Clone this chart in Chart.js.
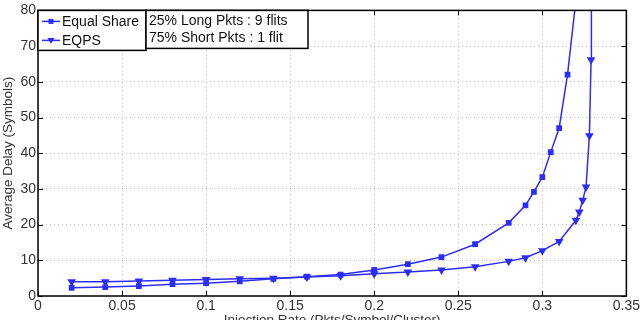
<!DOCTYPE html>
<html>
<head>
<meta charset="utf-8">
<script src="https://cdn.jsdelivr.net/npm/chart.js@4.4.1/dist/chart.umd.min.js"></script>
<style>
  html, body { margin: 0; padding: 0; background: #fff; }
  #wrap { width: 642px; height: 320px; }
</style>
</head>
<body>
<div id="wrap"><canvas id="c" width="642" height="320"></canvas></div>
<script>
// données
const esX = [0.02, 0.04, 0.06, 0.08, 0.1, 0.12, 0.14, 0.16, 0.18, 0.2, 0.22, 0.24, 0.26, 0.28, 0.29, 0.295, 0.3, 0.305, 0.31, 0.315, 0.32];
const esY = [2.3, 2.5, 2.8, 3.3, 3.6, 4.1, 4.8, 5.4, 6.0, 7.3, 8.9, 10.9, 14.5, 20.5, 25.4, 29.2, 33.3, 40.3, 47.0, 62.0, 83.0];
const eqX = [0.02, 0.04, 0.06, 0.08, 0.1, 0.12, 0.14, 0.16, 0.18, 0.2, 0.22, 0.24, 0.26, 0.28, 0.29, 0.3, 0.31, 0.32, 0.322, 0.324, 0.326, 0.328, 0.329, 0.3292];
const eqY = [4.0, 4.0, 4.2, 4.4, 4.6, 4.8, 5.0, 5.3, 5.7, 6.2, 6.7, 7.3, 8.2, 9.7, 10.7, 12.7, 15.3, 21.2, 23.5, 26.8, 30.5, 44.9, 66.2, 100];
const seriesNames = ["Equal Share", "EQPS"];
const noteLines = ["25% Long Pkts : 9 flits", "75% Short Pkts : 1 flit"];
const xTitle = "Injection Rate (Pkts/Symbol/Cluster)";
const yTitle = "Average Delay (Symbols)";

const BLUE = "rgb(45,45,250)";
const FONT = "Liberation Sans, Arial, sans-serif";

function pts(xs, ys) { return xs.map((x, i) => ({ x: x, y: ys[i] })); }

// ticks vers l'intérieur + cadre + légende + titres
const deco = {
  id: "deco",
  afterDraw(chart) {
    const ctx = chart.ctx, a = chart.chartArea;
    const xs = chart.scales.x, ys = chart.scales.y;
    ctx.save();
    ctx.strokeStyle = "#000";
    ctx.lineWidth = 1;
    ctx.beginPath();
    xs.ticks.forEach(t => {
      const px = Math.round(xs.getPixelForValue(t.value)) + 0.5;
      ctx.moveTo(px, a.bottom); ctx.lineTo(px, a.bottom - 5);
      ctx.moveTo(px, a.top); ctx.lineTo(px, a.top + 5);
    });
    ys.ticks.forEach(t => {
      const py = Math.round(ys.getPixelForValue(t.value)) + 0.5;
      ctx.moveTo(a.left, py); ctx.lineTo(a.left + 5, py);
      ctx.moveTo(a.right, py); ctx.lineTo(a.right - 5, py);
    });
    ctx.stroke();
    ctx.lineWidth = 1.5;
    ctx.strokeRect(a.left, a.top, a.right - a.left, a.bottom - a.top);

    // légende
    ctx.fillStyle = "#fff";
    ctx.fillRect(a.left, a.top, 108, 40);
    ctx.strokeRect(a.left, a.top, 108, 40);
    ctx.font = "14px " + FONT;
    ctx.textBaseline = "middle";
    seriesNames.forEach((n, i) => {
      const y = a.top + 11 + i * 19;
      ctx.strokeStyle = BLUE; ctx.fillStyle = BLUE; ctx.lineWidth = 1.5;
      ctx.beginPath(); ctx.moveTo(a.left + 4, y); ctx.lineTo(a.left + 22, y); ctx.stroke();
      ctx.beginPath();
      if (i === 0) { ctx.fillRect(a.left + 10.5, y - 2.5, 5, 5); }
      else { ctx.moveTo(a.left + 9.5, y - 2.5); ctx.lineTo(a.left + 16.5, y - 2.5); ctx.lineTo(a.left + 13, y + 3.5); ctx.closePath(); ctx.fill(); }
      ctx.fillStyle = "#111";
      ctx.fillText(n, a.left + 24, y + 0.5);
    });
    // encadré texte
    ctx.strokeStyle = "#000"; ctx.lineWidth = 1.5;
    ctx.fillStyle = "#fff";
    ctx.fillRect(a.left + 108, a.top, 162, 38);
    ctx.strokeRect(a.left + 108, a.top, 162, 38);
    ctx.fillStyle = "#111";
    noteLines.forEach((t, i) => ctx.fillText(t, a.left + 111, a.top + 10.5 + i * 17));

    // titres des axes
    ctx.font = "13.5px " + FONT;
    ctx.fillStyle = "#333";
    ctx.textAlign = "center";
    ctx.textBaseline = "alphabetic";
    ctx.fillText(xTitle, (a.left + a.right) / 2, 324);
    ctx.textBaseline = "middle";
    ctx.translate(8, (a.top + a.bottom) / 2);
    ctx.rotate(-Math.PI / 2);
    ctx.fillText(yTitle, 0, 0);
    ctx.restore();
  }
};

new Chart(document.getElementById("c"), {
  type: "scatter",
  data: {
    datasets: [
      {
        label: seriesNames[0], data: pts(esX, esY), showLine: true,
        borderColor: BLUE, backgroundColor: BLUE, borderWidth: 1.5,
        pointStyle: "rect", pointRadius: 3, pointHoverRadius: 3
      },
      {
        label: seriesNames[1], data: pts(eqX, eqY), showLine: true,
        borderColor: BLUE, backgroundColor: BLUE, borderWidth: 1.5,
        pointStyle: "triangle", pointRotation: 180, pointRadius: 3.5, pointHoverRadius: 3.5
      }
    ]
  },
  options: {
    responsive: false,
    animation: false,
    layout: { padding: { top: 6, right: 14, left: 0, bottom: 0 } },
    plugins: { legend: { display: false }, tooltip: { enabled: false } },
    scales: {
      x: {
        type: "linear", min: 0, max: 0.35,
        ticks: {
          stepSize: 0.05, color: "#333", font: { family: FONT, size: 14 }, padding: 2, maxRotation: 0,
          callback: v => String(Number(v.toFixed(2)))
        },
        grid: { color: "#bdbdbd", drawTicks: false },
        border: { display: false, dash: [1, 3] },
        afterFit(s) { s.height = 24; }
      },
      y: {
        min: 0, max: 80,
        ticks: { stepSize: 10, color: "#333", font: { family: FONT, size: 14 }, padding: 2 },
        grid: { color: "#bdbdbd", drawTicks: false },
        border: { display: false, dash: [1, 3] },
        afterFit(s) { s.width = 38; }
      }
    }
  },
  plugins: [deco]
});
</script>
</body>
</html>
